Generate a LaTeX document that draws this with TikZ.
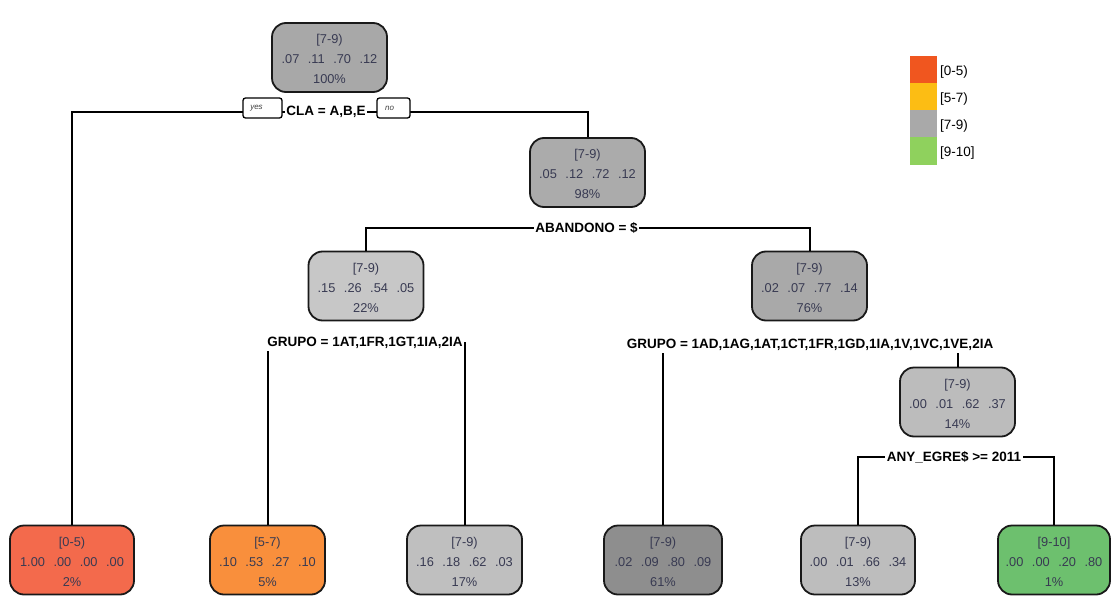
\documentclass[tikz,border=0pt]{standalone}
\usepackage{fontspec}
\setmainfont{Liberation Sans}
\definecolor{nodetext}{HTML}{383A52}
\definecolor{fillA}{HTML}{A8A8A8}
\definecolor{fillB}{HTML}{ABABAB}
\definecolor{fillC}{HTML}{C7C7C7}
\definecolor{fillD}{HTML}{A9A9A9}
\definecolor{fillE}{HTML}{BCBCBC}
\definecolor{leafRed}{HTML}{F36A4C}
\definecolor{leafOrange}{HTML}{F98F3C}
\definecolor{leafGrayL}{HTML}{BFBFBF}
\definecolor{leafGrayD}{HTML}{8E8E8E}
\definecolor{leafGrayM}{HTML}{BDBDBD}
\definecolor{leafGreen}{HTML}{6DC06E}
\definecolor{keyRed}{HTML}{F0561F}
\definecolor{keyAmber}{HTML}{FCBD14}
\definecolor{keyGray}{HTML}{A9A9A9}
\definecolor{keyGreen}{HTML}{8FD15D}
% three text lines of a tree box: class, four probabilities, share of cases
\newcommand{\boxlines}[6]{\rule{0pt}{13pt}#1\\#2\hspace{8.5pt}#3\hspace{8.5pt}#4\hspace{8.5pt}#5\\#6\%}
\begin{document}
\begin{tikzpicture}[x=1pt,y=-1pt,
  treebox/.style={draw=black!90, line width=1.8pt, rounded corners=14pt,
    minimum width=115pt, minimum height=69pt, inner sep=0pt, align=center,
    text=nodetext, font=\fontsize{12.8}{20}\selectfont},
  splitlabel/.style={fill=white, inner xsep=1.5pt, inner ysep=2pt,
    font=\bfseries\fontsize{13.5}{15}\selectfont},
  edge/.style={line width=2pt, black},
  tag/.style={draw, line width=1.3pt, fill=white, rounded corners=2.5pt,
    minimum height=20pt, inner sep=0pt, text=black!75,
    font=\itshape\fontsize{8}{9}\selectfont},
  swatch/.style={minimum width=27pt, minimum height=27pt, inner sep=0pt},
  keylabel/.style={anchor=west, inner sep=0pt, font=\fontsize{13.5}{15}\selectfont}]
\useasboundingbox (0,0) rectangle (1113,607);

% tree boxes
\node[treebox, fill=fillA] (root) at (329.5,57.5) {\boxlines{[7-9)}{.07}{.11}{.70}{.12}{100}};
\node[treebox, fill=fillB] (n98) at (587.5,172.5) {\boxlines{[7-9)}{.05}{.12}{.72}{.12}{98}};
\node[treebox, fill=fillC] (n22) at (366,286) {\boxlines{[7-9)}{.15}{.26}{.54}{.05}{22}};
\node[treebox, fill=fillD] (n76) at (809.5,286) {\boxlines{[7-9)}{.02}{.07}{.77}{.14}{76}};
\node[treebox, fill=fillE] (n14) at (957.5,402) {\boxlines{[7-9)}{.00}{.01}{.62}{.37}{14}};
\node[treebox, fill=leafRed, minimum width=124pt] (L1) at (72,560) {\boxlines{[0-5)}{1.00}{.00}{.00}{.00}{2}};
\node[treebox, fill=leafOrange] (L2) at (267.5,560) {\boxlines{[5-7)}{.10}{.53}{.27}{.10}{5}};
\node[treebox, fill=leafGrayL] (L3) at (464.5,560) {\boxlines{[7-9)}{.16}{.18}{.62}{.03}{17}};
\node[treebox, fill=leafGrayD, minimum width=118pt] (L4) at (663,560) {\boxlines{[7-9)}{.02}{.09}{.80}{.09}{61}};
\node[treebox, fill=leafGrayM, minimum width=114pt] (L5) at (858,560) {\boxlines{[7-9)}{.00}{.01}{.66}{.34}{13}};
\node[treebox, fill=leafGreen, minimum width=112pt] (L6) at (1054,560) {\boxlines{[9-10]}{.00}{.00}{.20}{.80}{1}};

% split points
\coordinate (s0) at (329,112);
\coordinate (s1) at (587,228);
\coordinate (s2) at (366,343);
\coordinate (s3) at (809,345);
\coordinate (s4) at (957,457);

% branches
\draw[edge] (L1.north) |- (s0) -| (n98.north);
\draw[edge] (n22.north) |- (s1) -| (n76.north);
\draw[edge] (L2.north) |- (s2) -| (L3.north);
\draw[edge] (L4.north) |- (s3) -| (n14.north);
\draw[edge] (L5.north) |- (s4) -| (L6.north);

% split rules
\node[splitlabel] (r0) at (326,112) {CLA = A,B,E};
\node[splitlabel] (r1) at (586.5,228) {ABANDONO = \$};
\node[splitlabel] (r2) at (365,343) {GRUPO = 1AT,1FR,1GT,1IA,2IA};
\node[splitlabel] (r3) at (810,345) {GRUPO = 1AD,1AG,1AT,1CT,1FR,1GD,1IA,1V,1VC,1VE,2IA};
\node[splitlabel] (r4) at (954,457) {ANY\_EGRE\$ >= 2011};

% yes / no tags of the first split
\node[tag, minimum width=39pt] (yes) at (262.5,108) {\raisebox{-5pt}{\hspace{-12pt}yes}};
\node[tag, minimum width=33pt] (no) at (393.5,108) {\raisebox{-4pt}{\hspace{-8pt}no}};

% colour key
\node[swatch, fill=keyRed] (k1) at (923.5,70) {};
\node[swatch, fill=keyAmber] (k2) at (923.5,97) {};
\node[swatch, fill=keyGray] (k3) at (923.5,124) {};
\node[swatch, fill=keyGreen] (k4) at (923.5,151) {};
\node[keylabel] (t1) at (940,72) {[0-5)};
\node[keylabel] (t2) at (940,99) {[5-7)};
\node[keylabel] (t3) at (940,126) {[7-9)};
\node[keylabel] (t4) at (940,153) {[9-10]};
\end{tikzpicture}
\end{document}
